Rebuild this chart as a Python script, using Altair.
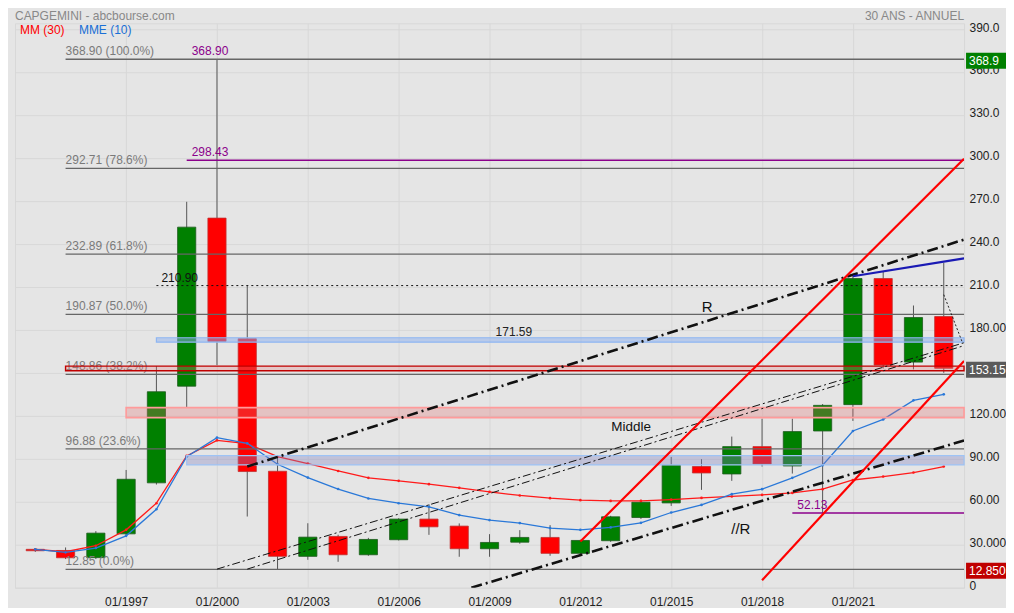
import altair as alt
import pandas as pd

FONT = "Liberation Sans"

# ---------------- data ----------------
years = list(range(1994, 2025))
opens = [26.8, 26.0, 21.0, 37.6, 73.2, 140.7, 258.0, 173.8, 81.3, 21.9, 35.8, 23.0, 33.5, 47.9, 43.0, 27.2,
         31.8, 35.1, 24.0, 32.8, 49.0, 59.2, 84.6, 79.4, 98.5, 85.0, 109.4, 127.8, 215.8, 157.5, 189.3]
highs = [27.5, 28.1, 39.5, 82.2, 154.7, 269.4, 368.9, 210.9, 91.5, 45.0, 37.0, 34.8, 48.5, 58.3, 44.9, 37.4,
         40.2, 43.7, 33.5, 50.2, 61.3, 91.3, 89.7, 105.5, 118.0, 118.0, 128.2, 218.0, 220.4, 197.0, 226.7]
lows = [25.0, 20.0, 20.0, 36.5, 72.0, 126.1, 155.4, 49.7, 12.85, 19.5, 18.1, 22.3, 33.0, 36.9, 21.6, 21.6,
        30.7, 22.3, 23.5, 32.0, 48.0, 57.1, 68.3, 74.6, 84.6, 79.7, 52.13, 116.4, 153.0, 152.4, 150.0]
closes = [25.8, 20.9, 38.1, 75.7, 136.8, 251.7, 171.9, 81.1, 21.9, 35.3, 23.0, 33.7, 47.9, 42.5, 27.2, 31.6,
          35.1, 24.0, 33.0, 49.5, 59.7, 85.5, 80.1, 98.5, 86.4, 109.0, 127.3, 215.8, 155.4, 188.6, 153.15]
mm30 = [26.8, 25.1, 29.3, 40.4, 59.0, 92.0, 102.9, 100.6, 91.5, 86.7, 81.5, 76.7, 74.6, 72.3, 69.7, 66.9,
        64.4, 62.5, 61.1, 60.6, 60.6, 61.5, 62.7, 63.7, 64.8, 66.2, 68.8, 75.2, 77.6, 80.4, 84.6]
mme10 = [26.8, 24.7, 27.7, 36.2, 54.8, 91.5, 104.8, 100.8, 86.2, 76.9, 68.9, 62.3, 59.0, 56.5, 50.7, 47.2,
         45.1, 41.6, 40.4, 42.1, 45.3, 52.5, 57.8, 65.3, 68.8, 76.7, 85.5, 109.4, 117.5, 130.8, 135.0]

fib_levels = [368.90, 292.71, 232.89, 190.87, 148.86, 96.88, 12.85]
fib_pcts = ["100.0%", "78.6%", "61.8%", "50.0%", "38.2%", "23.6%", "0.0%"]
fib_start = 1995

purple_lines = [298.43, 52.13]
purple_line_start = [1999, 2019]
purple_labels = ["368.90", "298.43", "52.13"]
purple_label_vals = [368.90, 298.43, 52.13]
purple_label_x = [1999, 1999, 2019]

dotted_level = 210.90
dotted_start = 1998

# zones: start year, low, high
zone_start = [1998, 1995, 1997, 1999]
zone_low = [171.4, 151.5, 118.7, 85.7]
zone_high = [174.5, 154.7, 125.7, 92.2]
zone_fill = ["#8cb0f0", "#e08080", "#e07070", "#8080c0"]
zone_fill_op = [0.5, 0.3, 0.3, 0.35]
zone_stroke = ["#8fb6f2", "#c00000", "#ff9a9a", "#9ec3f5"]
zone_stroke_w = [1.2, 1.4, 1.6, 1.2]

XMIN, XMAX = 1993.33, 2024.67

# trend lines (year, value) end points
thick_lines = {"R": [(2001, 84.6), (XMAX, 243.0)], "//R": [(2008.4, 0.0), (XMAX, 102.8)]}
thin_lines = {"A": [(2000, 13.0), (XMAX, 171.0)], "B": [(2001, 13.0), (XMAX, 169.0)]}
red_lines = {"r1": [(2012, 32.3), (XMAX, 299.4)], "r2": [(2018, 5.2), (XMAX, 158.2)]}
blue_lines = {"b1": [(2021, 217.4), (XMAX, 229.9)]}
dot_lines = {"d1": [(2024.0, 204.6), (2024.62, 171.0)]}

notes = ["R", "//R"]
notes_x = [2016.19, 2017.3]
notes_y = [195.8, 41.2]

price_boxes = ["368.9", "153.15", "12.850"]
price_vals = [368.9, 153.15, 12.85]
price_cols = ["#008000", "#5a5a5a", "#c00000"]

x_ticks = [1997, 2000, 2003, 2006, 2009, 2012, 2015, 2018, 2021]
y_ticks = [0, 30, 60, 90, 120, 150, 180, 210, 240, 270, 300, 330, 360, 390]
y_tick_text = ["0", "30.000", "60.00", "90.00", "120.00", "", "180.00", "210.0", "240.0", "270.0",
               "300.0", "330.0", "360.0", "390.0"]

# ---------------- scales / axes ----------------
xs = alt.Scale(domain=[XMIN, XMAX], nice=False, zero=False)
ys = alt.Scale(domain=[0, 394], nice=False, zero=False)

ylabel_expr = " : ".join(
    [f"datum.value == {v} ? '{t}'" for v, t in zip(y_ticks, y_tick_text)]) + " : ''"

xaxis = alt.Axis(values=x_ticks, labelExpr="'01/' + datum.value", grid=True, gridColor="#d8d8d8",
                 ticks=False, domain=False, labelFont=FONT, labelFontSize=12, labelColor="#222",
                 labelPadding=9, title=None, labelFlush=False, labelOverlap=False, zindex=0)
yaxis = alt.Axis(orient="right", values=y_ticks, labelExpr=ylabel_expr, grid=True, gridColor="#d8d8d8",
                 ticks=False, domain=False, labelFont=FONT, labelFontSize=12, labelColor="#222",
                 labelPadding=5, labelOffset=-2, title=None, labelFlush=False, labelOverlap=False, zindex=0)


def X(f):
    return alt.X(f, type="quantitative", scale=xs, axis=xaxis)


def Y(f):
    return alt.Y(f, type="quantitative", scale=ys, axis=yaxis)


# ---------------- tables ----------------
df = pd.DataFrame(dict(year=years, open=opens, high=highs, low=lows, close=closes))
df["lo"] = df["year"] - 0.3
df["hi"] = df["year"] + 0.3
df["top"] = df[["open", "close"]].max(axis=1)
df["bot"] = df[["open", "close"]].min(axis=1)
up = df["close"] >= df["open"]
df["fill"] = ["#008000" if u else "#ff0000" for u in up]
df["stroke"] = ["#1e5a1e" if u else "#c03030" for u in up]

ma = pd.concat([
    pd.DataFrame(dict(year=years, v=mm30, s="MM", c="#ff1a1a")),
    pd.DataFrame(dict(year=years, v=mme10, s="MME", c="#2a78d8")),
])

fib = pd.DataFrame(dict(v=fib_levels, x0=fib_start, x1=XMAX,
                        t=[f"{v:.2f}  ({p})" for v, p in zip(fib_levels, fib_pcts)]))
pl = pd.DataFrame(dict(v=purple_lines, x0=purple_line_start, x1=XMAX))
plab = pd.DataFrame(dict(v=purple_label_vals, x=purple_label_x, t=purple_labels))
dot = pd.DataFrame(dict(v=[dotted_level], x0=[dotted_start], x1=[XMAX], t=["210.90"]))
zones = pd.DataFrame(dict(x0=zone_start, x1=XMAX, lo=zone_low, hi=zone_high, f=zone_fill,
                          fo=zone_fill_op, s=zone_stroke, sw=zone_stroke_w))


def seg_df(d):
    rows = []
    for k, pts in d.items():
        for i, (xx, yy) in enumerate(pts):
            rows.append(dict(id=k, x=xx, y=yy, o=i))
    return pd.DataFrame(rows)


def seg_layer(d, color, width, dash=None):
    kw = dict(color=color, strokeWidth=width, clip=True)
    if dash:
        kw["strokeDash"] = dash
    return alt.Chart(seg_df(d)).mark_line(**kw).encode(
        x=X("x"), y=Y("y"), detail="id:N", order="o:Q")


# ---------------- layers ----------------
wick = alt.Chart(df).mark_rule(color="#555", strokeWidth=1).encode(x=X("year"), y=Y("low"), y2="high")
body = alt.Chart(df).mark_rect(strokeWidth=0.8).encode(
    x=X("lo"), x2="hi", y=Y("bot"), y2="top",
    fill=alt.Fill("fill:N", scale=None), stroke=alt.Stroke("stroke:N", scale=None))

ma_line = alt.Chart(ma).mark_line(strokeWidth=1.3, point=alt.OverlayMarkDef(size=7, filled=True)).encode(
    x=X("year"), y=Y("v"), detail="s:N", color=alt.Color("c:N", scale=None))

fib_rule = alt.Chart(fib).mark_rule(color="#666", strokeWidth=1.3).encode(x=X("x0"), x2="x1", y=Y("v"))
fib_text = alt.Chart(fib).mark_text(align="left", baseline="bottom", dy=-1, font=FONT, fontSize=12,
                                    color="#7a7a7a").encode(x=X("x0"), y=Y("v"), text="t:N")

pl_rule = alt.Chart(pl).mark_rule(color="#8b008b", strokeWidth=1.5).encode(x=X("x0"), x2="x1", y=Y("v"))
pl_text = alt.Chart(plab).mark_text(align="left", baseline="bottom", dx=5, dy=-1, font=FONT, fontSize=12,
                                    color="#8b008b").encode(x=X("x"), y=Y("v"), text="t:N")

dot_rule = alt.Chart(dot).mark_rule(color="#111", strokeWidth=1, strokeDash=[2, 3]).encode(
    x=X("x0"), x2="x1", y=Y("v"))
dot_text = alt.Chart(dot).mark_text(align="left", baseline="bottom", dx=5, dy=-1, font=FONT, fontSize=12,
                                    color="#111").encode(x=X("x0"), y=Y("v"), text="t:N")

zone_rect = alt.Chart(zones).mark_rect().encode(
    x=X("x0"), x2="x1", y=Y("lo"), y2="hi",
    fill=alt.Fill("f:N", scale=None), fillOpacity=alt.FillOpacity("fo:Q", scale=None),
    stroke=alt.Stroke("s:N", scale=None), strokeWidth=alt.StrokeWidth("sw:Q", scale=None))

band_lab = alt.Chart(pd.DataFrame(dict(x=[2009.2], v=[174.5], t=["171.59"]))).mark_text(
    align="left", baseline="bottom", dy=1, font=FONT, fontSize=12, color="#222").encode(
    x=X("x"), y=Y("v"), text="t:N")

middle_lab = alt.Chart(pd.DataFrame(dict(x=[2013.02], v=[112.0], t=["Middle"]))).mark_text(
    align="left", baseline="middle", font=FONT, fontSize=13.5, color="#111").encode(
    x=X("x"), y=Y("v"), text="t:N")

note_lab = alt.Chart(pd.DataFrame(dict(x=notes_x, v=notes_y, t=notes))).mark_text(
    align="center", baseline="middle", font=FONT, fontSize=15, color="#111").encode(
    x=X("x"), y=Y("v"), text="t:N")

thick = seg_layer(thick_lines, "#111", 2.6, [11, 4, 2, 4])
thin = seg_layer(thin_lines, "#111", 1.0, [8, 3, 2, 3])
redl = seg_layer(red_lines, "#ff0000", 2.2)
bluel = seg_layer(blue_lines, "#1a1ab4", 2.2)
dotl = seg_layer(dot_lines, "#222", 1.0, [2, 2])

pb = pd.DataFrame(dict(t=price_boxes, v=price_vals, c=price_cols))
pb["top"] = pb["v"] + 4.6
pb["bot"] = pb["v"] - 6.6
pb["mid"] = pb["v"] - 1.0
pbox = alt.Chart(pb).mark_rect().encode(
    x=alt.value(952), x2=alt.value(1000), y=Y("bot"), y2="top", fill=alt.Fill("c:N", scale=None))
ptext = alt.Chart(pb).mark_text(align="left", baseline="middle", font=FONT, fontSize=12, color="white").encode(
    x=alt.value(955), y=Y("mid"), text="t:N")

heads = pd.DataFrame(dict(t=["CAPGEMINI - abcbourse.com", "30 ANS - ANNUEL"], a=[0, 950]))
head_l = alt.Chart(heads.iloc[[0]]).mark_text(align="left", baseline="middle", font=FONT, fontSize=12,
                                              color="#888").encode(x=alt.value(0), y=alt.value(-7), text="t:N")
head_r = alt.Chart(heads.iloc[[1]]).mark_text(align="right", baseline="middle", font=FONT, fontSize=12,
                                              color="#888").encode(x=alt.value(950), y=alt.value(-7), text="t:N")
leg = pd.DataFrame(dict(t=["MM (30)", "MME (10)"], c=["#ff0000", "#1a6fd6"]))
leg_mm = alt.Chart(leg.iloc[[0]]).mark_text(align="left", baseline="middle", font=FONT, fontSize=12).encode(
    x=alt.value(5), y=alt.value(7), text="t:N", color=alt.Color("c:N", scale=None))
leg_mme = alt.Chart(leg.iloc[[1]]).mark_text(align="left", baseline="middle", font=FONT, fontSize=12).encode(
    x=alt.value(64), y=alt.value(7), text="t:N", color=alt.Color("c:N", scale=None))

chart = alt.layer(
    wick, body, ma_line, fib_rule, fib_text, pl_rule, pl_text, dot_rule, dot_text,
    zone_rect, band_lab, thin, thick, redl, bluel, dotl, middle_lab, note_lab,
    pbox, ptext, head_l, head_r, leg_mm, leg_mme,
).properties(
    width=950, height=565,
    autosize=alt.AutoSizeParams(type="none"),
    padding={"left": 7, "top": 15, "right": 42, "bottom": 20},
    background="#e5e5e5",
).configure_view(stroke="#d8d8d8", strokeWidth=1)

chart.save("out.html", embed_options={"renderer": "svg", "actions": False})
